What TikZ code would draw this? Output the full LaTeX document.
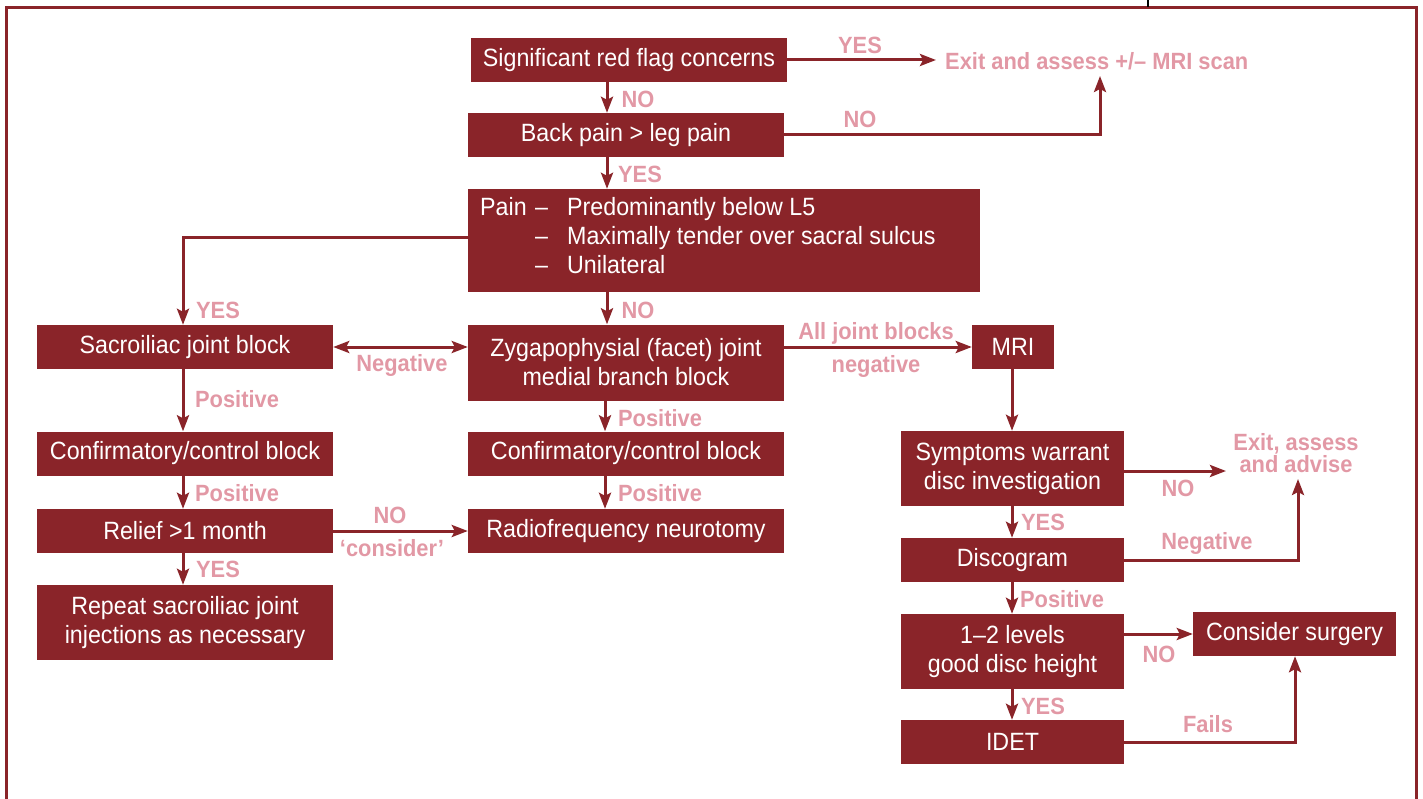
\documentclass[tikz,border=0pt]{standalone}
\usepackage{fontspec}
\setmainfont{Liberation Sans}[FakeStretch=0.93]
\usetikzlibrary{arrows.meta,calc}
\definecolor{dred}{RGB}{138,36,41}
\definecolor{pink}{RGB}{226,152,165}
\begin{document}
\begin{tikzpicture}[x=1pt,y=-1pt,
  box/.style={fill=dred,text=white,inner sep=0pt,font=\fontsize{25}{29}\selectfont,align=center},
  lab/.style={text=pink,inner sep=0pt,font=\fontsize{23.5}{22}\selectfont\bfseries,align=center},
  arr/.style={draw=dred,line width=3pt,-{Stealth[length=16pt,width=12pt,inset=3pt]}},
  dbl/.style={draw=dred,line width=3pt,{Stealth[length=16pt,width=12pt,inset=3pt]}-{Stealth[length=16pt,width=12pt,inset=3pt]}},
  ln/.style={draw=dred,line width=3pt}]
\useasboundingbox (0,0) rectangle (1423,799);
% frame
\draw[dred,line width=3pt] (6,802) -- (6,8) -- (1416,8) -- (1416,802);
\draw[black,line width=2.4pt] (1148,0) -- (1148,7);
% boxes
\node[box,minimum width=316pt,minimum height=44pt] (b1) at (629,60) {Significant red flag concerns};
\node[box,minimum width=316pt,minimum height=44pt] (b2) at (626,135) {Back pain > leg pain};
\node[box,minimum width=512pt,minimum height=103pt] (b3) at (724,240.5) {};
\node[text=white,inner sep=0pt,font=\fontsize{25}{29}\selectfont,anchor=north west] (b3t) at (480,195)
  {\begin{tabular}{@{}l@{}l@{}l@{}}\makebox[55pt][l]{Pain} & \makebox[32pt][l]{--} & Predominantly below L5\\ & -- & Maximally tender over sacral sulcus\\ & -- & Unilateral\end{tabular}};
\node[box,minimum width=296pt,minimum height=44pt] (b4) at (185,347) {Sacroiliac joint block};
\node[box,minimum width=316pt,minimum height=76pt] (b5) at (626,362.5) {Zygapophysial (facet) joint\\medial branch block};
\node[box,minimum width=82pt,minimum height=44pt] (b6) at (1013,347) {MRI};
\node[box,minimum width=296pt,minimum height=44pt] (b7) at (185,453.5) {Confirmatory/control block};
\node[box,minimum width=316pt,minimum height=44pt] (b8) at (626,453.5) {Confirmatory/control block};
\node[box,minimum width=296pt,minimum height=44pt] (b9) at (185,531) {Relief >1 month};
\node[box,minimum width=316pt,minimum height=44pt] (b10) at (626,531) {Radiofrequency neurotomy};
\node[box,minimum width=296pt,minimum height=75pt] (b11) at (185,622.5) {Repeat sacroiliac joint\\injections as necessary};
\node[box,minimum width=223pt,minimum height=75pt] (b12) at (1012.5,468.5) {Symptoms warrant\\disc investigation};
\node[box,minimum width=223pt,minimum height=44pt] (b13) at (1012.5,560) {Discogram};
\node[box,minimum width=223pt,minimum height=75pt] (b14) at (1012.5,651.5) {1--2 levels\\good disc height};
\node[box,minimum width=203pt,minimum height=44pt] (b15) at (1294.5,634) {Consider surgery};
\node[box,minimum width=223pt,minimum height=44pt] (b16) at (1012.5,742) {IDET};
% exit texts
\node[lab,anchor=west] (ex1) at (945,61) {Exit and assess +/-- MRI scan};
\node[lab] (ex2) at (1296,453) {Exit, assess\\and advise};
% connectors
\coordinate (c0) at (936,60);
\draw[arr] (b1.east) -- (c0);
\coordinate (c1) at (1100,76);
\draw[arr] (b2.east) -| (c1);
\draw[arr] (b1.south -| 607,0) -- (b2.north -| 607,0);
\draw[arr] (b2.south -| 607,0) -- (b3.north -| 607,0);
\draw[arr] (b3.south -| 607,0) -- (b5.north -| 607,0);
\draw[arr] (b3.west |- 0,238) -| (b4.north -| 183,0);
\draw[dbl] (b4.east) -- (b4.east -| b5.west);
\draw[arr] (b5.east |- b6.west) -- (b6.west);
\draw[arr] (b4.south -| 183,0) -- (b7.north -| 183,0);
\draw[arr] (b7.south -| 183,0) -- (b9.north -| 183,0);
\draw[arr] (b9.south -| 183,0) -- (b11.north -| 183,0);
\draw[arr] (b9.east) -- (b9.east -| b10.west);
\draw[arr] (b5.south -| 605,0) -- (b8.north -| 605,0);
\draw[arr] (b8.south -| 605,0) -- (b10.north -| 605,0);
\draw[arr] (b6.south -| 1012,0) -- (b12.north -| 1012,0);
\draw[arr] (b12.south -| 1012,0) -- (b13.north -| 1012,0);
\draw[arr] (b13.south -| 1012,0) -- (b14.north -| 1012,0);
\draw[arr] (b14.south -| 1012,0) -- (b16.north -| 1012,0);
\coordinate (c2) at (1226,471);
\draw[arr] (b12.east |- c2) -- (c2);
\coordinate (c3) at (1298,479);
\draw[arr] (b13.east) -| (c3);
\draw[arr] (b14.east |- b15.west) -- (b15.west);
\draw[arr] (b16.east) -| (b15.south -| 1295,0);
% labels
\node[lab] (l1) at (860,45) {YES};
\node[lab] (l2) at (638,99) {NO};
\node[lab] (l3) at (860,119) {NO};
\node[lab] (l4) at (640,174) {YES};
\node[lab] (l5) at (218,310) {YES};
\node[lab] (l6) at (638,310) {NO};
\node[lab] (l7) at (402,365) {Negative};
\node[lab] (l8) at (876,333) {All joint blocks};
\node[lab] (l9) at (876,366) {negative};
\node[lab] (l10) at (237,399) {Positive};
\node[lab] (l11) at (660,418) {Positive};
\node[lab] (l12) at (237,493) {Positive};
\node[lab] (l13) at (660,493) {Positive};
\node[lab] (l14) at (390,515) {NO};
\node[lab] (l15) at (392,548) {‘consider’};
\node[lab] (l16) at (218,569) {YES};
\node[lab] (l17) at (1178,488) {NO};
\node[lab] (l18) at (1043,522) {YES};
\node[lab] (l19) at (1207,543) {Negative};
\node[lab] (l20) at (1062,599) {Positive};
\node[lab] (l21) at (1159,654) {NO};
\node[lab] (l22) at (1043,706) {YES};
\node[lab] (l23) at (1208,724) {Fails};
\end{tikzpicture}
\end{document}
